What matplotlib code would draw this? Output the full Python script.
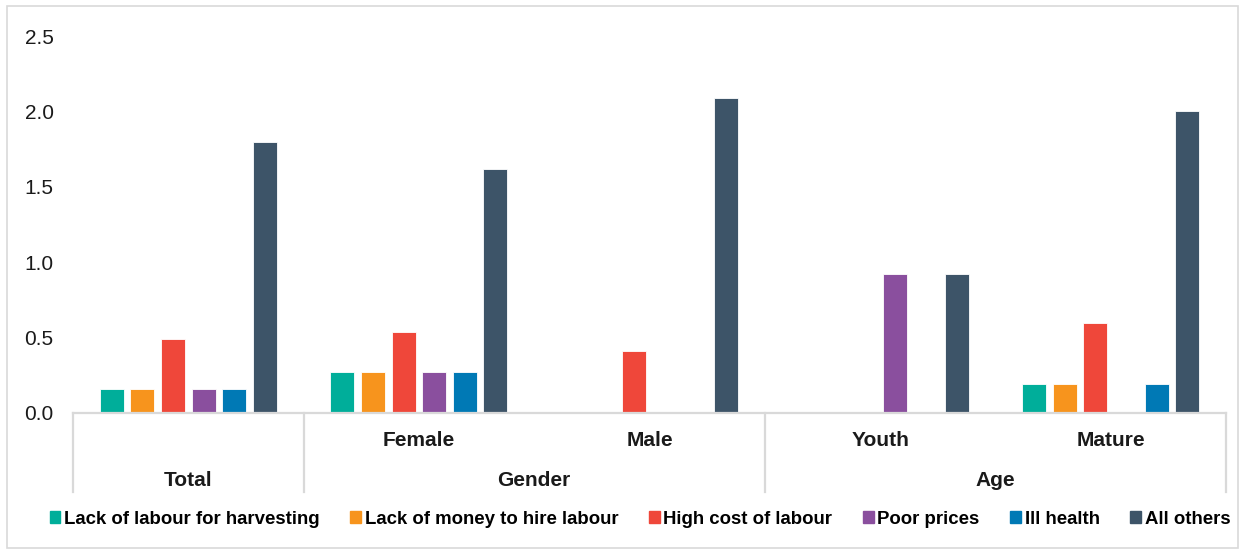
import matplotlib
matplotlib.use("Agg")
import matplotlib.pyplot as plt
from matplotlib.patches import Rectangle
from matplotlib.lines import Line2D
import numpy as np

plt.rcParams['font.family'] = ['Liberation Sans', 'DejaVu Sans']

# Categories (inner level) and their outer groups
categories = ["", "Female", "Male", "Youth", "Mature"]
groups = ["Total", "Gender", "Age"]
group_spans = [(0, 0), (1, 2), (3, 4)]   # first/last category index of each group

series_names = ["Lack of labour for harvesting", "Lack of money to hire labour",
                "High cost of labour", "Poor prices", "Ill health", "All others"]
lack_labour = [0.16, 0.27, 0.0, 0.0, 0.19]
lack_money = [0.16, 0.27, 0.0, 0.0, 0.19]
high_cost = [0.49, 0.54, 0.41, 0.0, 0.60]
poor_prices = [0.16, 0.27, 0.0, 0.92, 0.0]
ill_health = [0.16, 0.27, 0.0, 0.0, 0.19]
all_others = [1.80, 1.62, 2.09, 0.92, 2.00]
series = [lack_labour, lack_money, high_cost, poor_prices, ill_health, all_others]
colors = ["#00AE9A", "#F7941D", "#EF473A", "#8A4F9E", "#0079B5", "#3D5468"]

fig = plt.figure(figsize=(12.44, 5.52), dpi=100)
W, H = 1244, 552
ax = fig.add_axes([73 / W, 1 - 413 / H, (1226 - 73) / W, (413 - 36) / H])

x = np.arange(len(categories))
pitch = 0.1327
width = 0.104
for i, (vals, col, name) in enumerate(zip(series, colors, series_names)):
    offs = (i - 2.5) * pitch
    ax.bar(x + offs, vals, width=width, color=col, label=name,
           edgecolor="white", linewidth=0.6, zorder=2)

ax.set_xlim(-0.5, len(categories) - 0.5)
ax.set_ylim(0, 2.5)
ticks = np.arange(0, 2.51, 0.5)
ax.set_yticks(ticks)
ax.set_yticklabels([f"{v:.1f}" for v in ticks], fontsize=15, color="#1a1a1a")
ax.tick_params(axis="y", length=0, pad=14)
ax.set_xticks([])
for s in ["top", "right", "left"]:
    ax.spines[s].set_visible(False)
ax.spines["bottom"].set_color("#D9D9D9")
ax.spines["bottom"].set_linewidth(1.6)

# Multi-level category axis
trans = ax.get_xaxis_transform()
axh = 413 - 36
y_bottom = -(492 - 413) / axh
y_inner = -(440 - 413) / axh
y_outer = -(480 - 413) / axh
bounds = [-0.5, 0.5, 2.5, 4.5]
for b in bounds:
    ax.add_line(Line2D([b, b], [0, y_bottom], transform=trans, color="#D9D9D9",
                       linewidth=1.6, clip_on=False))
for xi, lab in zip(x, categories):
    if lab:
        ax.text(xi, y_inner, lab, transform=trans, ha="center", va="center",
                fontsize=15, fontweight="bold", color="#1a1a1a")
for g, (a, b) in zip(groups, group_spans):
    ax.text((a + b) / 2, y_outer, g, transform=trans, ha="center", va="center",
            fontsize=15, fontweight="bold", color="#1a1a1a")

# Legend
handles = [Rectangle((0, 0), 1, 1, color=c) for c in colors]
fig.legend(handles, series_names, loc="center", bbox_to_anchor=(640 / W, 1 - 519 / H),
           ncol=6, frameon=False, prop={"size": 13.4, "weight": "bold"},
           handlelength=0.57, handleheight=0.57, handletextpad=0.2, columnspacing=1.65,
           borderpad=0, borderaxespad=0)

# Outer frame
fig.add_artist(Rectangle((7 / W, 4 / H), (1238 - 7) / W, (546 - 4) / H,
                         transform=fig.transFigure, fill=False,
                         edgecolor="#D9D9D9", linewidth=1.2))

fig.savefig("out.png", dpi=100)
